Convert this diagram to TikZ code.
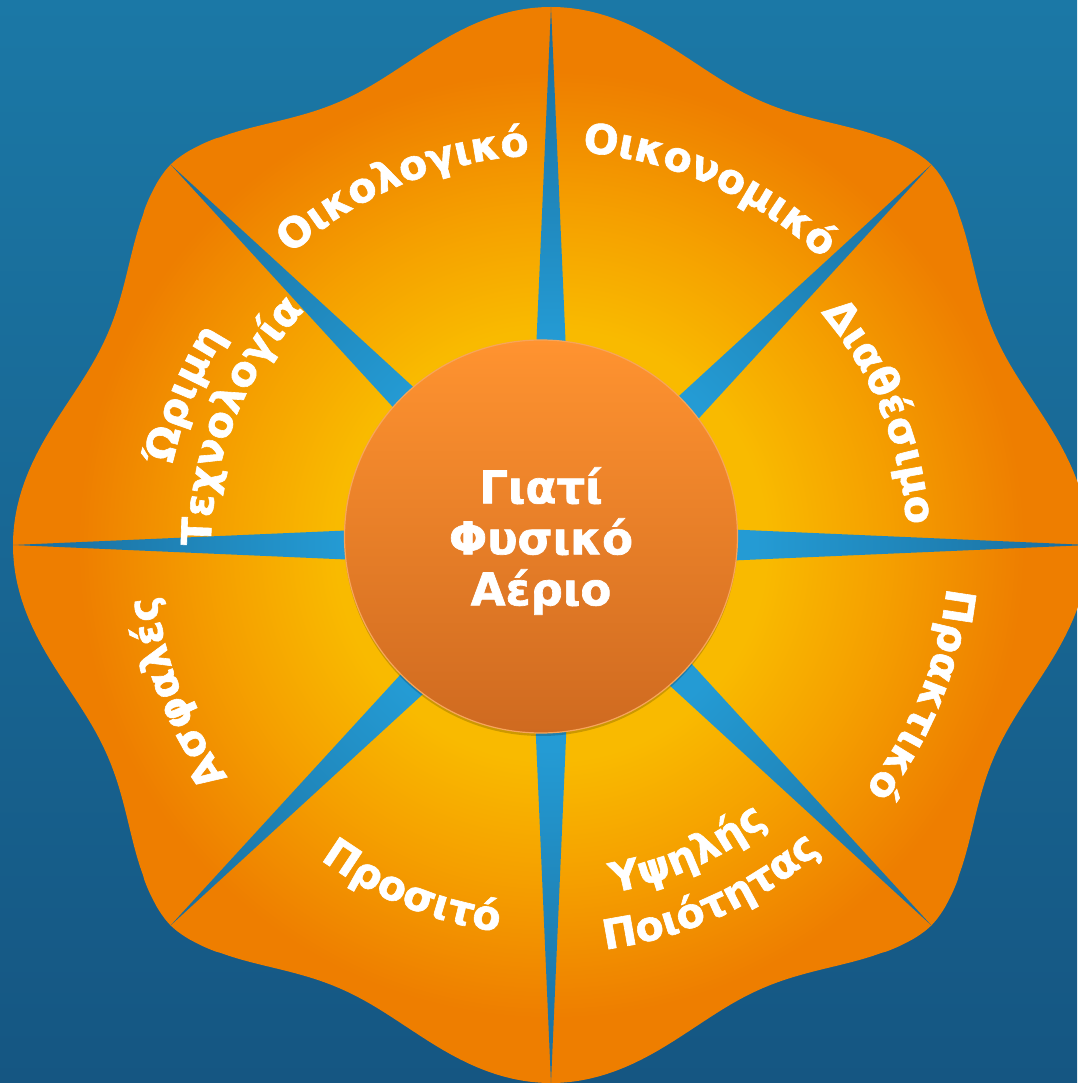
\documentclass[tikz,border=0pt]{standalone}
\usepackage{fontspec}
\setmainfont{DejaVu Sans}
\newfontfamily\heavyfam{DejaVu Sans}[BoldFeatures={FakeBold=1.5}]
\usetikzlibrary{decorations.text,shadows}
\definecolor{bgtop}{RGB}{27,120,166}
\definecolor{bgbot}{RGB}{21,86,130}
\definecolor{flowin}{RGB}{249,186,0}
\definecolor{flowmid}{RGB}{245,160,0}
\definecolor{flowout}{RGB}{238,126,0}
\definecolor{spkin}{RGB}{36,155,212}
\definecolor{spkout}{RGB}{26,108,155}
\definecolor{ctop}{RGB}{255,147,48}
\definecolor{cbot}{RGB}{207,106,32}
\definecolor{cedge}{RGB}{247,165,90}
\pgfdeclareradialshading{flowershade}{\pgfpoint{0bp}{0bp}}{color(0bp)=(flowin); color(10bp)=(flowin); color(15.5bp)=(flowmid); color(22bp)=(flowout); color(50bp)=(flowout)}
\pgfdeclareradialshading{spikeshade}{\pgfpoint{0bp}{0bp}}{color(0bp)=(spkin); color(9.5bp)=(spkin); color(25bp)=(spkout); color(50bp)=(spkout)}
\newcommand\lblfont{\fontsize{41}{41}\selectfont\heavyfam\bfseries}
\begin{document}
\begin{tikzpicture}[x=1pt,y=1pt,
  lbl/.style={decorate,decoration={text along path,text align=center,text color=white,text={|\lblfont|#1}}},
  hub/.style={circle,draw=cedge,line width=1.2pt,top color=ctop,bottom color=cbot,minimum size=393pt,inner sep=0pt,
    drop shadow={shadow xshift=0pt,shadow yshift=-3pt,opacity=0.18,fill=black}},
  hubtxt/.style={align=center,text=white,inner sep=0pt,font=\fontsize{45}{51}\selectfont\heavyfam\bfseries}]
\useasboundingbox (-551,-538) rectangle (526,545);
\shade[top color=bgtop,bottom color=bgbot] (-551,-538) rectangle (526,545);
% flower
\shade[shading=flowershade] plot[domain=0:360,samples=721,variable=\t]
  (\t:{538-47*(sin(180*exp(0.868*ln(max(abs(mod(\t,90)-45)/45,0.00001)))))^2}) -- cycle;
% spikes
\shade[shading=spikeshade] \foreach \a in {0,45,...,315}{ (\a+90:23.4) -- (\a:538) -- (\a-90:23.4) -- cycle };
% centre
\node[hub] (hubnode) at (-10,8.5) {};
\node[hubtxt] (hubtext) at (-10,4) {Γιατί\\Φυσικό\\Αέριο};
% labels
\path[lbl=Οικολογικό] (152.5:390) arc[start angle=152.5,end angle=72.5,radius=390];
\path[lbl=Οικονομικό] (106:394) arc[start angle=106,end angle=26,radius=394];
\path[lbl=Διαθέσιμο] (62:356) arc[start angle=62,end angle=-18,radius=356];
\path[lbl=Πρακτικό] (18:398) arc[start angle=18,end angle=-62,radius=398];
\path[lbl=Προσιτό] (-152:390) arc[start angle=-152,end angle=-72,radius=390];
\path[lbl=Υψηλής] (-106:353) arc[start angle=-106,end angle=-26,radius=353];
\path[lbl=Ποιότητας] (-106:408) arc[start angle=-106,end angle=-25,radius=408];
\path[lbl=Ασφαλές] (241.5:398) arc[start angle=241.5,end angle=161.5,radius=398];
\path[lbl=Ώριμη] (197.7:387) arc[start angle=197.7,end angle=117.7,radius=387];
\path[lbl=Τεχνολογία] (198.3:340) arc[start angle=198.3,end angle=118.3,radius=340];
\end{tikzpicture}
\end{document}
